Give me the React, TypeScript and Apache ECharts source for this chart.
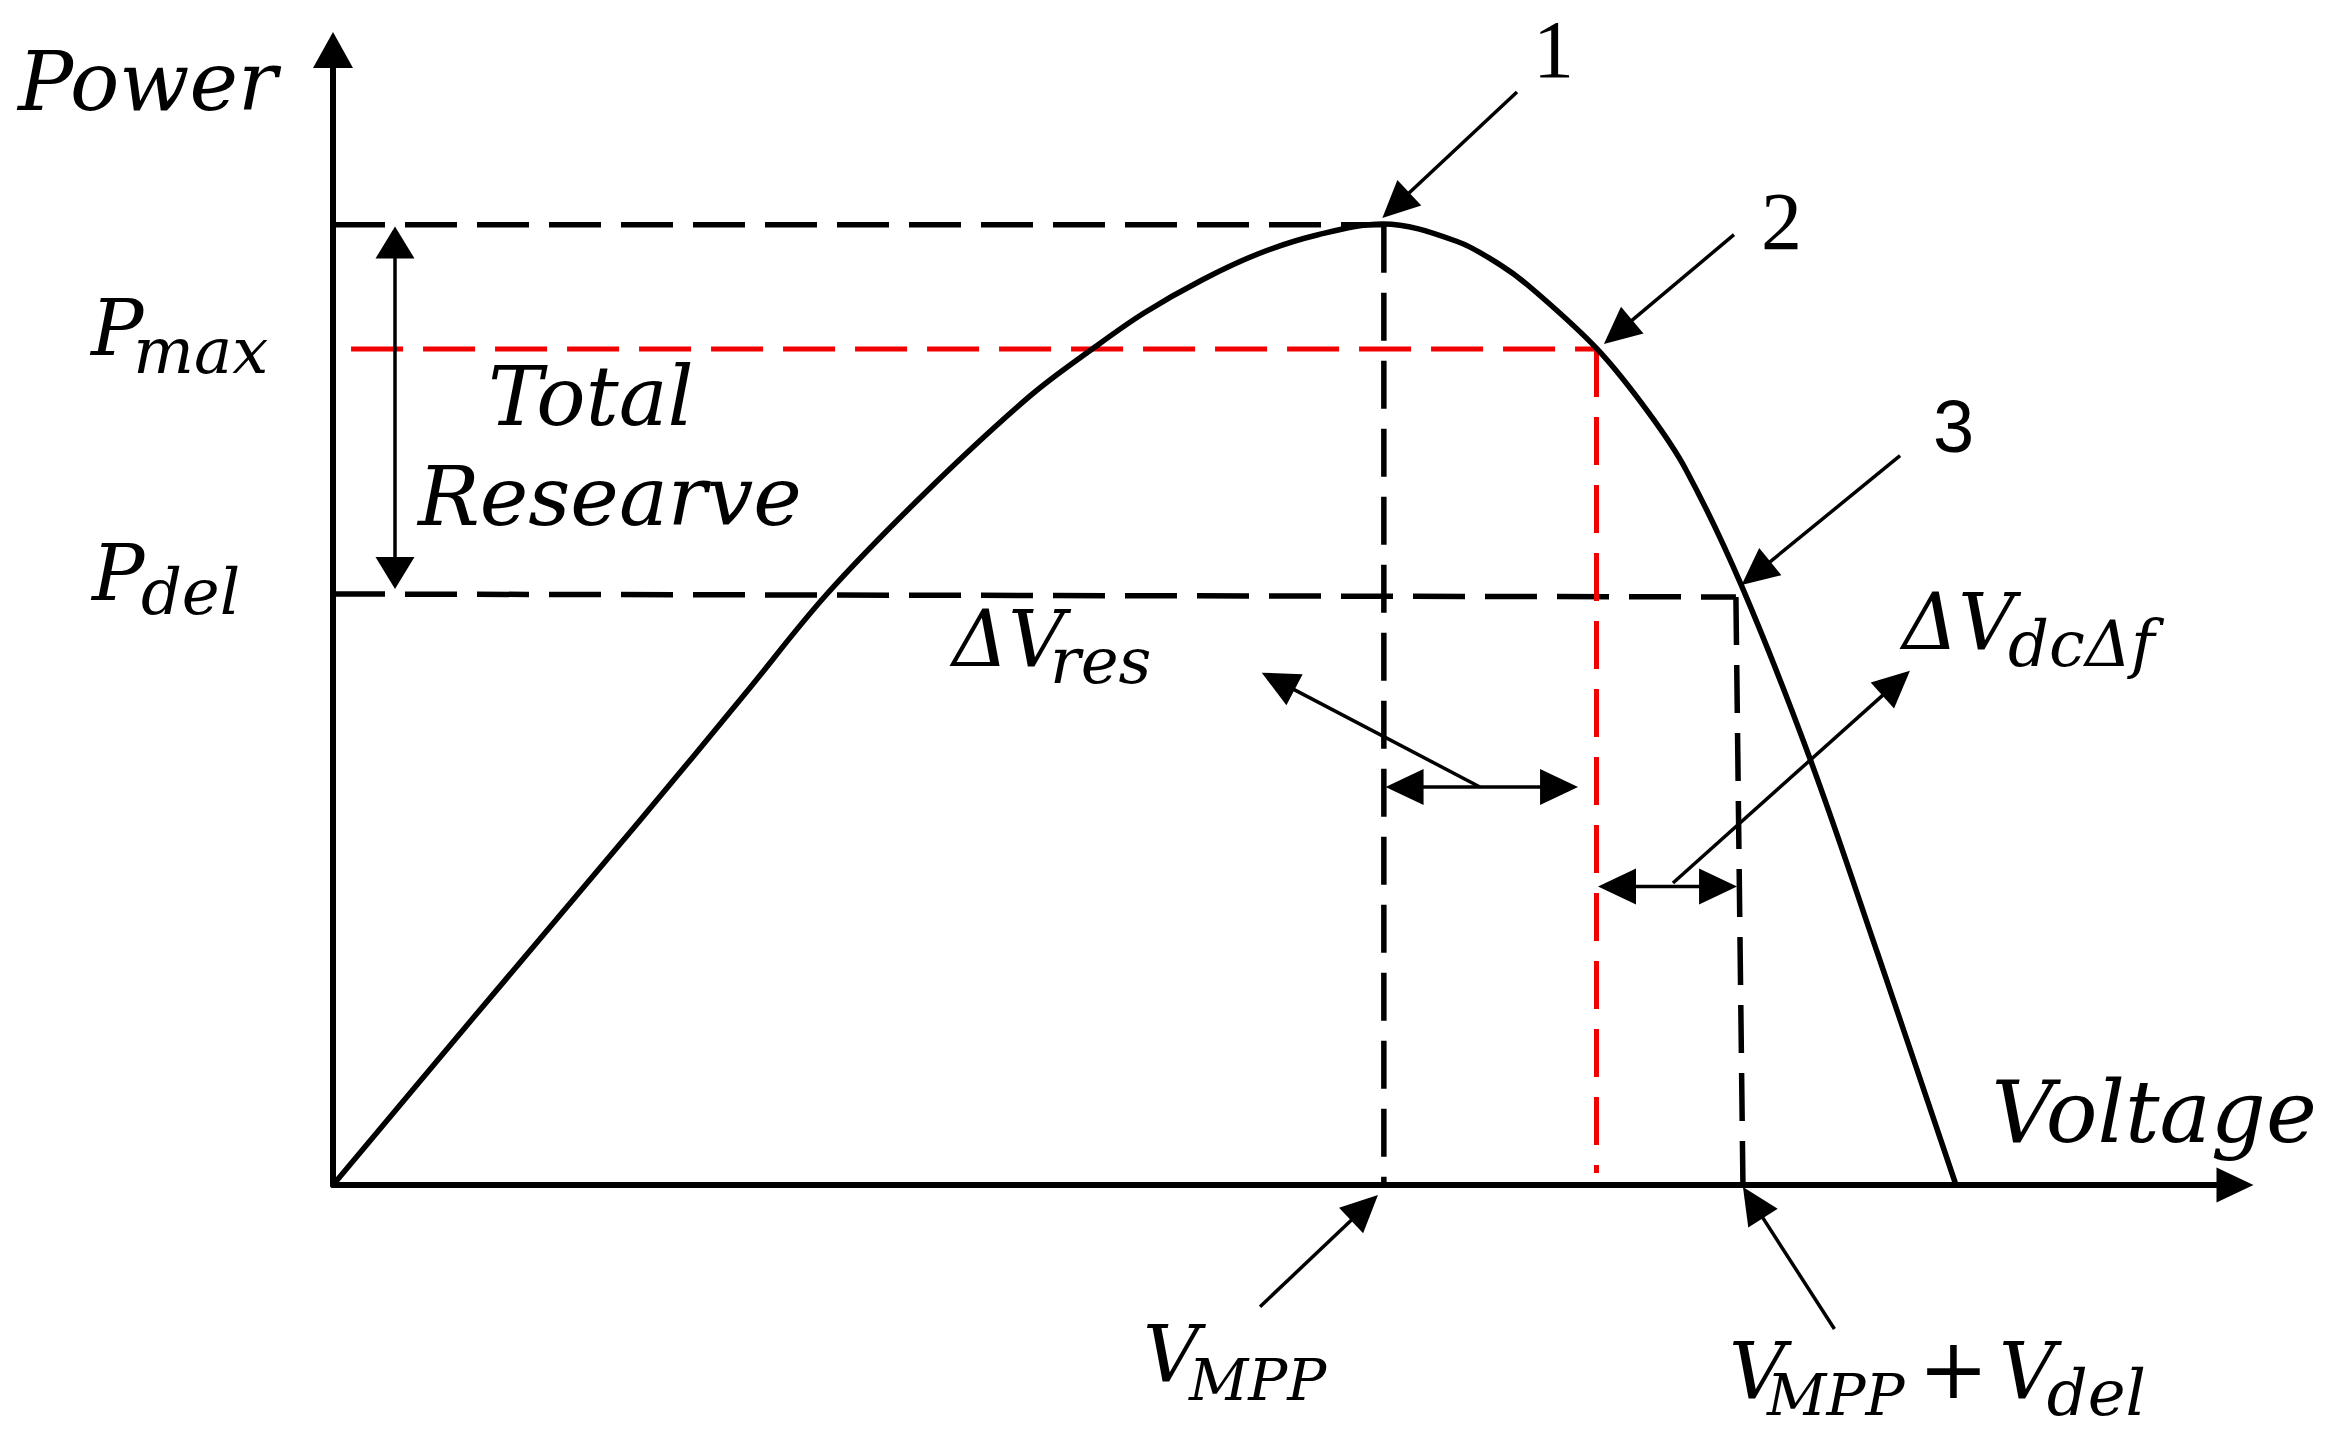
import React, { useEffect, useRef } from 'react';
import * as echarts from 'echarts';

// P-V curve (voltage, power) in arbitrary units
const VOLTAGE = [0, 7.41, 16.07, 21.61, 25.97, 31.18, 36.65, 40.06, 42.64, 45.69, 48.69, 51.74, 55.2, 59.07, 61.43, 63.09, 66.46, 69.14, 71.14, 74.06, 77.68, 81.2, 85.33];
const POWER = [0, 14.8, 31.98, 43.17, 52.07, 61.06, 69.52, 73.83, 76.83, 79.74, 82.07, 83.7, 84.67, 83.15, 81.0, 78.9, 73.66, 68.11, 63.0, 52.78, 37.44, 20.44, 0];

// reference levels
const P_MAX = 84.6;
const P_RES = 73.66;
const P_DEL_L = 52.07;
const P_DEL_R = 51.81;
const V_MPP = 55.25;
const V_RES = 66.43;
const V_DEL_TOP = 73.76;
const V_DEL_BOT = 74.13;

// dashed guide lines (pairs of [voltage, power])
const BLACK_GUIDES = [
  [[0, P_MAX], [V_MPP, P_MAX]],
  [[V_MPP, P_MAX], [V_MPP, 0]],
  [[0, P_DEL_L], [V_DEL_TOP, P_DEL_R]],
  [[V_DEL_TOP, P_DEL_R], [V_DEL_BOT, 0]],
];
const RED_GUIDES = [
  [[0.95, P_RES], [V_RES, P_RES]],
  [[V_RES, P_RES], [V_RES, 1.06]],
];

// annotation arrows: from -> to (data coordinates)
const ARROW_FROM = [[62.25, 96.3], [73.66, 83.73], [82.39, 64.26], [70.45, 26.61], [60.3, 35.07], [55.34, 35.07], [66.51, 26.3], [3.26, 84.45], [48.74, -10.72], [78.94, -12.69]];
const ARROW_TO = [[55.17, 85.2], [66.82, 74.1], [74.06, 52.86], [82.91, 45.3], [48.83, 45.14], [65.46, 35.07], [73.82, 26.3], [3.26, 52.51], [54.94, -0.88], [74.13, -0.18]];
const ARROW_KIND = ['ptr', 'ptr', 'ptr', 'ptr', 'ptr', 'dblH', 'dblH', 'dblV', 'ptr', 'ptr'];

// text annotations (left / baseline anchor in data coordinates)
const LABEL_TEXT = ['Power', 'P', 'max', 'Total', 'Researve', 'P', 'del', 'ΔV', 'res', 'ΔV', 'dcΔf', 'Voltage', 'V', 'MPP', 'V', 'MPP', '+', 'V', 'del', '1', '2', '3'];
const LABEL_V = [-16.56, -12.72, -10.5, 8.15, 4.47, -12.67, -10.1, 32.54, 37.7, 82.49, 88.07, 87.2, 42.59, 45.0, 73.4, 75.4, 83.35, 87.59, 90.1, 63.09, 75.08, 84.12];
const LABEL_P = [94.71, 73.13, 71.54, 66.96, 58.15, 51.54, 50.31, 45.73, 44.23, 47.22, 45.73, 3.79, -17.27, -18.94, -18.77, -20.26, -18.77, -18.77, -20.26, 97.62, 82.41, 64.58];
const LABEL_KIND = ['word', 'main', 'sub', 'word', 'word', 'main', 'sub', 'main', 'sub', 'main', 'sub', 'axis', 'main', 'subcap', 'main', 'subcap', 'plus', 'main', 'sub', 'num', 'num', 'num3'];

const TEXT_STYLES: Record<string, { size: number; family: string; italic: boolean; c: number }> = {
  word: { size: 82, family: 'DejaVu Serif', italic: true, c: 0.346 },
  main: { size: 78, family: 'DejaVu Serif', italic: true, c: 0.346 },
  sub: { size: 64, family: 'DejaVu Serif', italic: true, c: 0.346 },
  subcap: { size: 58, family: 'DejaVu Serif', italic: true, c: 0.346 },
  axis: { size: 86, family: 'DejaVu Serif', italic: true, c: 0.346 },
  plus: { size: 84, family: 'DejaVu Serif', italic: false, c: 0.346 },
  num: { size: 82, family: 'Liberation Serif', italic: false, c: 0.3375 },
  num3: { size: 74, family: 'Liberation Sans', italic: false, c: 0.3465 },
};

const HEAD_SIZE: Record<string, [number, number]> = {
  ptr: [37, 35],
  dblH: [38, 36],
  dblV: [32, 39],
};

function renderArrow(params: any, api: any) {
  const i = api.value(4);
  const p1 = api.coord([api.value(0), api.value(1)]);
  const p2 = api.coord([api.value(2), api.value(3)]);
  const dx = p2[0] - p1[0];
  const dy = p2[1] - p1[1];
  const len = Math.hypot(dx, dy) || 1;
  const ux = dx / len;
  const uy = dy / len;
  const nx = -uy;
  const ny = ux;
  const kind = ARROW_KIND[i];
  const [L, W] = HEAD_SIZE[kind];
  const both = kind !== 'ptr';
  const head = (tx: number, ty: number, sx: number, sy: number) => ({
    type: 'polygon',
    shape: {
      points: [
        [tx, ty],
        [tx - sx * L + (nx * W) / 2, ty - sy * L + (ny * W) / 2],
        [tx - sx * L - (nx * W) / 2, ty - sy * L - (ny * W) / 2],
      ],
    },
    style: { fill: '#000' },
  });
  const sx0 = both ? p1[0] + ux * L * 0.8 : p1[0];
  const sy0 = both ? p1[1] + uy * L * 0.8 : p1[1];
  const children: any[] = [
    {
      type: 'line',
      shape: { x1: sx0, y1: sy0, x2: p2[0] - ux * L * 0.8, y2: p2[1] - uy * L * 0.8 },
      style: { stroke: '#000', lineWidth: 3.5 },
    },
    head(p2[0], p2[1], ux, uy),
  ];
  if (both) children.push(head(p1[0], p1[1], -ux, -uy));
  return { type: 'group', children };
}

function renderLabel(params: any, api: any) {
  const i = api.value(2);
  const p = api.coord([api.value(0), api.value(1)]);
  const st = TEXT_STYLES[LABEL_KIND[i]];
  const fontStyle = st.italic ? 'italic' : 'normal';
  return {
    type: 'text',
    x: p[0],
    y: p[1] - st.c * st.size,
    style: {
      legacy: false,
      text: LABEL_TEXT[i],
      fill: '#000',
      fontSize: st.size,
      fontFamily: st.family,
      fontStyle,
      font: `${fontStyle} ${st.size}px ${st.family}`,
      align: 'left',
      verticalAlign: 'middle',
    },
  };
}

export default function App() {
  const ref = useRef<HTMLDivElement>(null);
  useEffect(() => {
    if (!ref.current) return;
    const chart = echarts.init(ref.current, null, { renderer: 'svg' });
    const guideSeries = [
      ...BLACK_GUIDES.map((seg, k) => ({
        type: 'line',
        data: seg,
        symbol: 'none',
        silent: true,
        lineStyle: { color: '#000', width: 5.5, type: k % 2 === 0 ? [52, 20] : [48, 20] },
        z: 2,
      })),
      ...RED_GUIDES.map((seg, k) => ({
        type: 'line',
        data: seg,
        symbol: 'none',
        silent: true,
        lineStyle: { color: '#f00000', width: 5, type: k % 2 === 0 ? [52, 20] : [48, 20] },
        z: 2,
      })),
    ];
    const option: any = {
      animation: false,
      backgroundColor: '#ffffff',
      grid: { left: 333, top: 50, width: 1902, height: 1135, containLabel: false, outerBoundsMode: 'none' },
      xAxis: {
        type: 'value',
        min: 0,
        max: 100,
        axisLine: {
          show: true,
          onZero: true,
          symbol: ['none', 'triangle'],
          symbolSize: [35, 37],
          lineStyle: { color: '#000', width: 6 },
        },
        axisTick: { show: false },
        axisLabel: { show: false },
        splitLine: { show: false },
      },
      yAxis: {
        type: 'value',
        min: 0,
        max: 100,
        axisLine: {
          show: true,
          onZero: true,
          symbol: ['none', 'triangle'],
          symbolSize: [40, 36],
          lineStyle: { color: '#000', width: 6 },
        },
        axisTick: { show: false },
        axisLabel: { show: false },
        splitLine: { show: false },
      },
      series: [
        ...guideSeries,
        {
          type: 'line',
          name: 'P-V curve',
          data: VOLTAGE.map((v, i) => [v, POWER[i]]),
          smooth: 0.35,
          symbol: 'none',
          silent: true,
          lineStyle: { color: '#000', width: 5.5 },
          z: 3,
        },
        {
          type: 'custom',
          renderItem: renderArrow,
          clip: false,
          silent: true,
          encode: { x: [0, 2], y: [1, 3] },
          data: ARROW_FROM.map((f, i) => [f[0], f[1], ARROW_TO[i][0], ARROW_TO[i][1], i]),
          z: 4,
        },
        {
          type: 'custom',
          renderItem: renderLabel,
          clip: false,
          silent: true,
          encode: { x: 0, y: 1 },
          data: LABEL_V.map((v, i) => [v, LABEL_P[i], i]),
          z: 5,
        },
      ],
    };
    chart.setOption(option);
    return () => chart.dispose();
  }, []);
  return (
    <div
      ref={ref}
      style={{ position: 'fixed', left: 0, top: 0, width: 2328, height: 1432, background: '#fff' }}
    />
  );
}
